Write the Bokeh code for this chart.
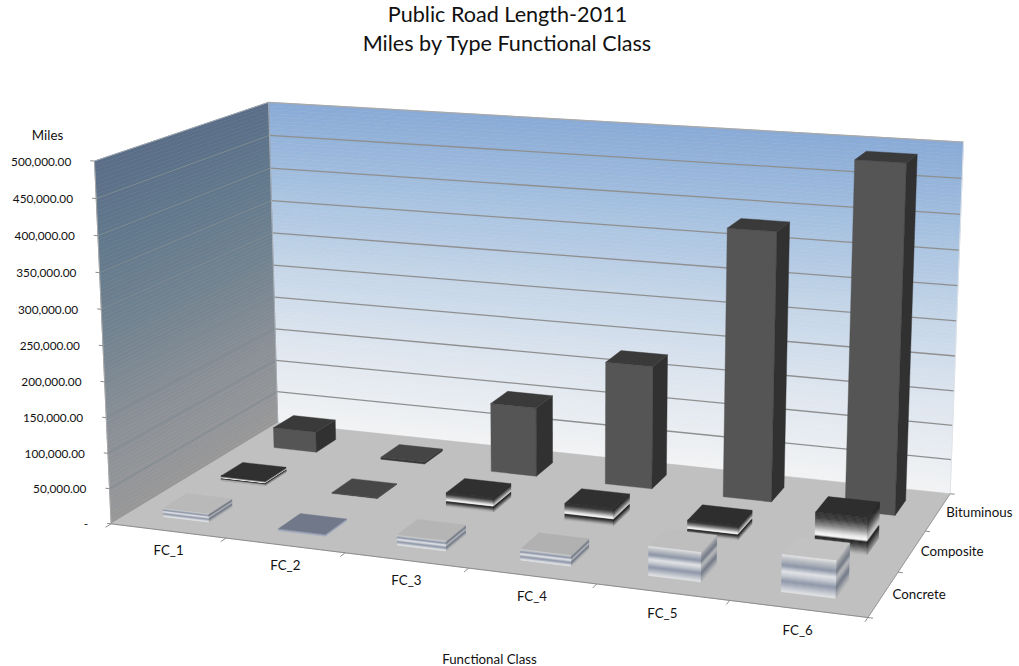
import numpy as np
from bokeh.core.properties import value
from bokeh.embed import file_html
from bokeh.models import Range1d
from bokeh.plotting import figure
from bokeh.resources import INLINE

# --- chart content ------------------------------------------------------
title_lines = ["Public Road Length-2011", "Miles by Type Functional Class"]
categories = ["FC_1", "FC_2", "FC_3", "FC_4", "FC_5", "FC_6"]
series_names = ["Concrete", "Composite", "Bituminous"]
concrete = [12000, 2500, 14000, 15000, 40000, 50000]
composite = [7000, 1000, 20000, 24000, 20000, 51000]
bituminous = [31000, 3000, 102000, 179000, 384000, 489000]
y_ticks = [0, 50000, 100000, 150000, 200000, 250000, 300000, 350000, 400000, 450000, 500000]
y_max = 500000

# --- look ----------------------------------------------------------------
FONT = "Lato"
BAR_SHARE = 0.40
back_wall_stops = [(0, "#f2f3f4"), (.25, "#dfe6ef"), (.5, "#c5d6e8"), (.75, "#a6c1e0"), (1, "#89aad6")]
side_wall_stops = [(0, "#989898"), (.25, "#8b9097"), (.5, "#748490"), (.75, "#637a8d"), (1, "#5a6e88")]
# Face shading runs from the top of a bar (0) to its foot (1).
concrete_stops = [(0, "#ececec"), (.1, "#c6c9ce"), (.3, "#8a93a5"), (.46, "#e2e4e9"), (.55, "#cdd1d7"),
                  (.72, "#8c95a8"), (.93, "#d0d4da"), (1, "#e4e4e4")]
composite_stops = [(0, "#2c2c2c"), (.15, "#3a3a3a"), (.35, "#8a8a8a"), (.5, "#dcdcdc"), (.58, "#fafafa"),
                   (.62, "#eeeeee"), (.66, "#1c1c1c"), (.74, "#3a3a3a"), (1, "#bdbdbd")]
top_colors = [
    ["#b9b9b9", "#71788a", "#b5b5b5", "#b1b1b1", "#bebebe", "#c2c2c2"],
    ["#303030", "#474747", "#303030", "#303030", "#2e2e2e", "#2e2e2e"],
    ["#3a3a3a", "#454545", "#3a3a3a", "#3a3a3a", "#3a3a3a", "#3a3a3a"],
]


# --- projection of the plot box (u along classes, v along types, w up) --
def fit_camera():
    anchors = [((0, 0, 0), (111, 523)), ((1, 0, 0), (867, 618)), ((1, 1, 0), (950, 492)),
               ((0, 1, 0), (277, 423)), ((0, 0, 1), (94, 160)), ((0, 1, 1), (268, 102)),
               ((1, 1, 1), (963, 142))]
    rows = []
    for (u, v, w), (x, y) in anchors:
        rows.append([u, v, w, 1, 0, 0, 0, 0, -x * u, -x * v, -x * w, -x])
        rows.append([0, 0, 0, 0, u, v, w, 1, -y * u, -y * v, -y * w, -y])
    return np.linalg.svd(np.array(rows, float))[2][-1].reshape(3, 4)


CAMERA = fit_camera()


def project(u, v, w):
    h = CAMERA @ np.array([u, v, w, 1.0])
    return h[0] / h[2], h[1] / h[2]


def quad(corners):
    pts = [project(*c) for c in corners]
    return [p[0] for p in pts], [p[1] for p in pts]


def shade(stops, t, factor=1.0):
    pos = [s[0] for s in stops]
    rgb = np.array([[int(s[1][i:i + 2], 16) for i in (1, 3, 5)] for s in stops], float)
    c = [np.interp(t, pos, rgb[:, i]) * factor for i in range(3)]
    return "#%02x%02x%02x" % tuple(int(round(min(255, x))) for x in c)


xs, ys, fills = [], [], []


def add(corners, color):
    x, y = quad(corners)
    xs.append(x)
    ys.append(y)
    fills.append(color)


# Walls are painted as thin bands to give the vertical colour ramp.
BANDS = 90
for i in range(BANDS):
    w0, w1 = i / BANDS, (i + 1) / BANDS
    t = (w0 + w1) / 2
    add([(0, 1, w0), (1, 1, w0), (1, 1, w1), (0, 1, w1)], shade(back_wall_stops, t))
    add([(0, 0, w0), (0, 1, w0), (0, 1, w1), (0, 0, w1)], shade(side_wall_stops, t))

# Floor
add([(0, 0, 0), (1, 0, 0), (1, 1, 0), (0, 1, 0)], "#c0c0c0")

p = figure(width=1019, height=666, x_range=Range1d(0, 1019), y_range=Range1d(666, 0),
           toolbar_location=None, output_backend="svg", min_border=0,
           outline_line_color=None, x_axis_location=None, y_axis_location=None,
           background_fill_color="white", border_fill_color="white")
p.grid.visible = False

p.patches(xs, ys, fill_color=fills, line_color=fills, line_width=0.6)
xs, ys, fills = [], [], []


def seg(a, b, color, width=1.0):
    x, y = quad([a, b])
    p.line(x, y, line_color=color, line_width=width)


# Gridlines on the two walls
for tick in y_ticks[1:]:
    w = tick / y_max
    seg((0, 0, w), (0, 1, w), "#7d8a90" if tick < y_max else "#a3aab2")
    seg((0, 1, w), (1, 1, w), "#8f8f8f" if tick < y_max else "#a9a9a9", 1.3)
seg((0, 0, 0), (0, 0, 1), "#a8a8a8")
seg((0, 1, 0), (0, 1, 1), "#a8adb5")
seg((1, 1, 0), (1, 1, 1), "#dfe3e8")

# Axis edges and tick marks
seg((0, 0, 0), (1, 0, 0), "#8c8c8c")
seg((1, 0, 0), (1, 1, 0), "#9a9a9a")
for i in range(len(categories) + 1):
    seg((i / 6, 0, 0), (i / 6, -0.03, 0), "#8c8c8c")
for j in range(len(series_names) + 1):
    seg((1, j / 3, 0), (1.006, j / 3, 0), "#8c8c8c")
for tick in y_ticks:
    w = tick / y_max
    seg((0, 0, w), (-0.006, 0, w), "#8c8c8c")

# Bars, painted from the back row forward
rows = [concrete, composite, bituminous]
du = BAR_SHARE / 6 / 2
dv = BAR_SHARE / 3 / 2
for j in (2, 1, 0):
    for i, val in enumerate(rows[j]):
        uc, vc = (i + 0.5) / 6, (j + 0.5) / 3
        u0, u1, v0, v1 = uc - du, uc + du, vc - dv, vc + dv
        h = val / y_max
        if j == 2:
            front = "#555555" if val > 5000 else "#353535"
            add([(u0, v0, 0), (u1, v0, 0), (u1, v0, h), (u0, v0, h)], front)
            add([(u1, v0, 0), (u1, v1, 0), (u1, v1, h), (u1, v0, h)], "#313131")
        elif val < 3000:
            front = "#9ea6ba" if j == 0 else "#3a3a3a"
            add([(u0, v0, 0), (u1, v0, 0), (u1, v0, h), (u0, v0, h)], front)
            add([(u1, v0, 0), (u1, v1, 0), (u1, v1, h), (u1, v0, h)], front)
        else:
            stops = concrete_stops if j == 0 else composite_stops
            n = 40
            for k in range(n):
                w0, w1 = h * (1 - k / n), h * (1 - (k + 1) / n)
                c = shade(stops, (k + 0.5) / n)
                add([(u0, v0, w1), (u1, v0, w1), (u1, v0, w0), (u0, v0, w0)], c)
                c = shade(stops, (k + 0.5) / n, 0.8)
                add([(u1, v0, w1), (u1, v1, w1), (u1, v1, w0), (u1, v0, w0)], c)
        add([(u0, v0, h), (u1, v0, h), (u1, v1, h), (u0, v1, h)], top_colors[j][i])

p.patches(xs, ys, fill_color=fills, line_color=fills, line_width=0.4)


# Text
def label(x, y, s, size, align="center"):
    p.text([x], [y], text=[s], text_font=value(FONT), text_font_size=size, text_color="#111111",
           text_align=align, text_baseline="middle")


NUMBERS = "11.8px"
NAMES = "13.3px"
for tick in y_ticks:
    x, y = project(-0.006, 0, tick / y_max)
    text = "-" if tick == 0 else f"{tick:,.2f}"
    label(x - 19, y + 1, text, NUMBERS, "right")
for i, name in enumerate(categories):
    x, y = project(0.04 + (i + 0.5) / 6 * 0.975, -0.14, 0)
    label(x, y - 1, name, NAMES)
for j, name in enumerate(series_names):
    x, y = project(1.011, (j + 0.5) / 3, 0)
    label(x, y - 1, name, NAMES, "left")
label(47, 134, "Miles", NAMES)
label(489, 658, "Functional Class", NAMES)
label(507, 13, title_lines[0], "21.6px")
label(507, 42, title_lines[1], "21.6px")

open("out.html", "w").write(file_html(p, INLINE))
